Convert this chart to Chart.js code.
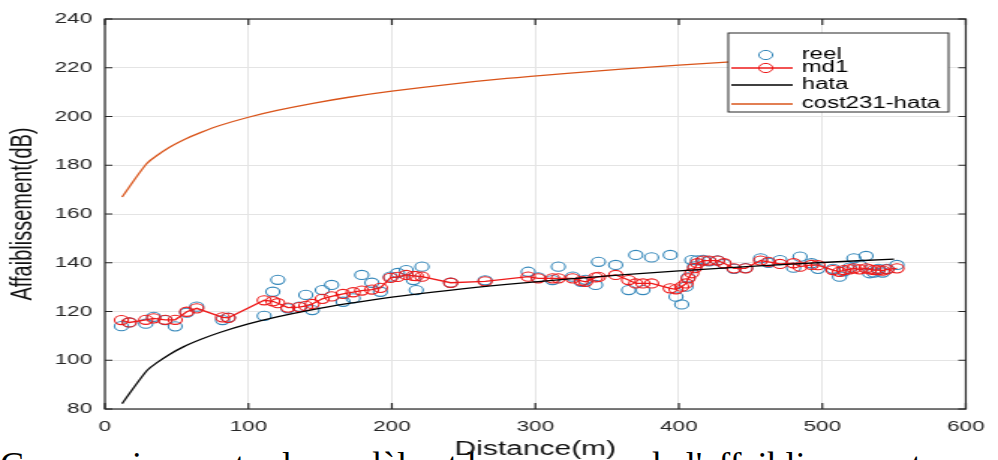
<!DOCTYPE html>
<html>
<head>
<meta charset="utf-8">
<script src="https://cdn.jsdelivr.net/npm/chart.js@4.4.1/dist/chart.umd.min.js"></script>
<style>
    html, body { margin: 0; padding: 0; background: #fff; width: 998px; height: 460px; overflow: hidden; position: relative; }
    #caption {
        position: absolute; left: 0; top: 447px;
        font-family: "Liberation Serif", "Times New Roman", serif;
        font-size: 36px; line-height: 36px; white-space: nowrap; color: #000;
    }
    /* the figure is exported wider than tall, so the whole plot is stretched horizontally */
    #wrap { position: absolute; left: 0; top: 0; width: 666px; height: 460px; transform: scaleX(1.4985); transform-origin: 0 0; }
</style>
</head>
<body>
<div id="caption">Comparaison entre le modèle et les mesures de l'affaiblissement</div>
<div id="wrap"><canvas id="chart" width="666" height="460"></canvas></div>
<script>
// Measured points (distance in m, path loss in dB)
const distance = [11.5, 17, 28.5, 34, 42, 49, 57, 64, 82, 86,
    111, 117, 120.5, 127.5, 135.5, 140, 144.5, 151.5, 158, 166,
    173, 179, 186, 192, 199, 204, 210, 215, 217, 221,
    241, 265, 295, 302, 312, 316, 326, 332, 335, 342,
    344, 356, 365, 370, 375, 381, 394, 398, 402, 405,
    406.5, 409, 411, 413, 417, 421, 427, 431.5, 438.5, 446.5,
    457, 462.5, 470.5, 480, 484.5, 492.5, 497, 507.5, 512, 515,
    519, 522, 526, 530.5, 533, 536, 539, 542, 545, 552];
const reel = [114.0, 115.5, 115.0, 117.8, 116.5, 113.9, 119.5, 122.0, 116.5, 117.5,
    118.2, 128.1, 133.0, 121.3, 122.0, 126.8, 120.6, 128.8, 130.9, 124.0,
    125.4, 135.0, 131.8, 128.1, 134.3, 135.8, 137.0, 132.9, 128.8, 138.4,
    131.8, 132.8, 136.3, 134.0, 132.9, 138.4, 134.3, 132.2, 133.0, 130.9,
    140.4, 139.1, 128.8, 143.2, 128.8, 142.2, 143.2, 126.1, 122.9, 130.2,
    134.0, 141.1, 138.5, 141.0, 141.2, 140.6, 141.0, 139.5, 137.5, 137.8,
    141.8, 140.0, 141.1, 138.0, 142.5, 139.8, 137.5, 137.5, 134.3, 136.5,
    138.0, 141.8, 139.0, 142.8, 135.7, 136.0, 137.5, 136.0, 137.5, 139.1];
const md1 = [116.5, 115.5, 116.6, 117.2, 116.6, 116.6, 119.9, 121.3, 117.6, 117.4,
    124.6, 124.2, 123.4, 121.6, 121.8, 122.3, 123.1, 125.2, 126.2, 127.2,
    127.9, 128.6, 129.0, 129.7, 133.8, 134.2, 135.0, 134.6, 134.5, 134.3,
    131.8, 132.4, 134.3, 133.6, 133.6, 133.6, 133.6, 132.6, 132.2, 134.0,
    134.2, 135.0, 132.9, 131.5, 131.5, 131.5, 129.5, 129.1, 130.2, 131.5,
    133.6, 135.7, 137.8, 139.8, 140.9, 140.9, 140.9, 139.8, 137.7, 137.7,
    140.9, 140.4, 139.5, 139.8, 138.4, 139.1, 139.0, 137.0, 136.3, 137.0,
    137.3, 137.7, 137.3, 137.7, 137.3, 137.0, 137.0, 136.8, 137.3, 137.7];

// Empirical models evaluated along the route
const modelDistance = [12, 29, 36, 45, 55, 67, 80, 100, 120, 145,
    170, 200, 240, 280, 320, 360, 400, 450, 500, 550];
const hata = [82.2, 95.6, 98.9, 102.4, 105.6, 108.6, 111.4, 114.9, 117.8, 120.8,
    123.3, 125.9, 128.7, 131.1, 133.2, 135.0, 136.7, 138.5, 140.1, 141.5];
const cost231 = [167.0, 180.6, 183.9, 187.4, 190.5, 193.5, 196.3, 199.7, 202.5, 205.4,
    207.9, 210.4, 213.2, 215.6, 217.6, 219.4, 221.1, 222.9, 224.5, 226.0];

const xTicks = [0, 100, 200, 300, 400, 500, 600];
const yTicks = [80, 100, 120, 140, 160, 180, 200, 220, 240];

const INK = '#262626';
const SANS = '"Liberation Sans", Arial, sans-serif';

function pairs(xs, ys) {
    return xs.map((d, i) => ({ x: d, y: ys[i] }));
}

// MATLAB-style box with inward ticks and the legend drawn inside the axes
const boxAndLegend = {
    id: 'boxAndLegend',
    afterDraw(chart) {
        const { ctx, chartArea: a, scales } = chart;
        ctx.save();
        ctx.strokeStyle = INK;
        ctx.lineWidth = 1.2;
        ctx.strokeRect(a.left, a.top, a.right - a.left, a.bottom - a.top);
        ctx.beginPath();
        scales.x.ticks.forEach(t => {
            const px = scales.x.getPixelForValue(t.value);
            ctx.moveTo(px, a.bottom); ctx.lineTo(px, a.bottom - 6);
            ctx.moveTo(px, a.top); ctx.lineTo(px, a.top + 6);
        });
        scales.y.ticks.forEach(t => {
            const py = scales.y.getPixelForValue(t.value);
            ctx.moveTo(a.left, py); ctx.lineTo(a.left + 5, py);
            ctx.moveTo(a.right, py); ctx.lineTo(a.right - 5, py);
        });
        ctx.stroke();

        // legend
        const box = { x: 486, y: 33, w: 147, h: 79 };
        const rows = [55, 68, 85, 104];
        ctx.fillStyle = '#fff';
        ctx.fillRect(box.x, box.y, box.w, box.h);
        ctx.lineWidth = 1;
        ctx.strokeStyle = INK;
        ctx.strokeRect(box.x, box.y, box.w, box.h);
        ctx.font = '16px ' + SANS;
        ctx.textBaseline = 'middle';
        chart.data.datasets.forEach((ds, i) => {
            const ry = rows[i];
            if (ds.showLine !== false) {
                ctx.strokeStyle = ds.borderColor;
                ctx.lineWidth = ds.borderWidth;
                ctx.beginPath();
                ctx.moveTo(488, ry); ctx.lineTo(529, ry);
                ctx.stroke();
            }
            if (ds.pointRadius > 0) {
                ctx.strokeStyle = ds.pointBorderColor;
                ctx.lineWidth = 1;
                ctx.beginPath();
                ctx.arc(511, ry, ds.pointRadius, 0, Math.PI * 2);
                ctx.stroke();
            }
            ctx.fillStyle = '#000';
            ctx.fillText(ds.label, 535, ry);
        });
        ctx.restore();
    }
};

new Chart(document.getElementById('chart'), {
    type: 'line',
    data: {
        datasets: [
            {
                label: 'reel', data: pairs(distance, reel), showLine: false,
                pointRadius: 4.6, pointBorderWidth: 1.1, pointBorderColor: '#3487ba',
                pointBackgroundColor: 'rgba(0,0,0,0)', borderColor: '#3487ba', order: 4
            },
            {
                label: 'md1', data: pairs(distance, md1), borderColor: '#ee1a1a', borderWidth: 1.3,
                pointRadius: 4.6, pointBorderWidth: 1.1, pointBorderColor: '#ee1a1a',
                pointBackgroundColor: 'rgba(0,0,0,0)', tension: 0, order: 3
            },
            {
                label: 'hata', data: pairs(modelDistance, hata), borderColor: '#000',
                borderWidth: 1.3, pointRadius: 0, tension: 0.3, order: 2
            },
            {
                label: 'cost231-hata', data: pairs(modelDistance, cost231), borderColor: '#d9541a',
                borderWidth: 1.3, pointRadius: 0, tension: 0.3, order: 1
            }
        ]
    },
    options: {
        responsive: false,
        animation: false,
        layout: { padding: { top: 19, right: 15, bottom: 0, left: 0 } },
        plugins: { legend: { display: false }, tooltip: { enabled: false } },
        scales: {
            x: {
                type: 'linear', min: 0, max: 600,
                afterBuildTicks: s => { s.ticks = xTicks.map(v => ({ value: v })); },
                afterFit: s => { s.height = 51; },
                grid: { color: '#e4e4e4', lineWidth: 1, drawTicks: false },
                border: { display: false },
                ticks: { padding: 9, color: INK, font: { family: SANS, size: 15 } },
                title: {
                    display: true, text: 'Distance(m)', color: '#111',
                    font: { family: SANS, size: 20, lineHeight: 1 }, padding: { top: 0, bottom: 1 }
                }
            },
            y: {
                type: 'linear', min: 80, max: 240,
                afterBuildTicks: s => { s.ticks = yTicks.map(v => ({ value: v })); },
                afterFit: s => { s.width = 70; },
                grid: { color: '#e4e4e4', lineWidth: 1, drawTicks: false },
                border: { display: false },
                ticks: { padding: 8.5, color: INK, font: { family: SANS, size: 15 } },
                title: {
                    display: true, text: 'Affaiblissement(dB)', color: '#111',
                    font: { family: SANS, size: 20, lineHeight: 1 }, padding: { top: 5, bottom: 0 }
                }
            }
        }
    },
    plugins: [boxAndLegend]
});
</script>
</body>
</html>
